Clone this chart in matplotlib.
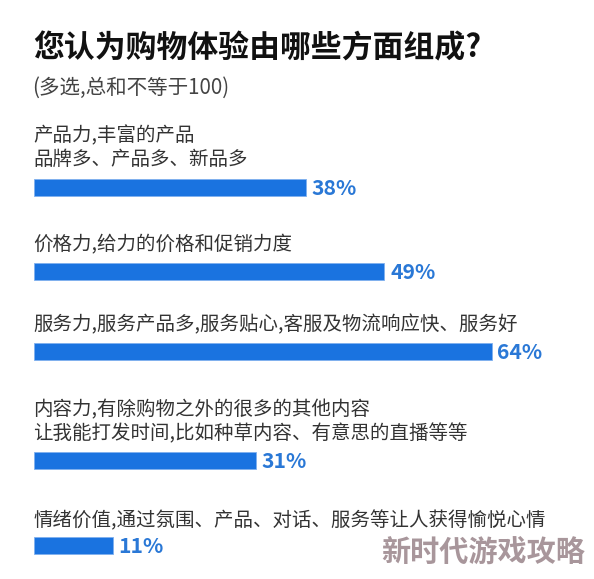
import matplotlib
matplotlib.use("Agg")
import matplotlib.pyplot as plt

plt.rcParams['font.family'] = ['Noto Sans CJK SC', 'DejaVu Sans']

title = "您认为购物体验由哪些方面组成?"
subtitle = "(多选,总和不等于100)"
labels = [
    "产品力,丰富的产品\n品牌多、产品多、新品多",
    "价格力,给力的价格和促销力度",
    "服务力,服务产品多,服务贴心,客服及物流响应快、服务好",
    "内容力,有除购物之外的很多的其他内容\n让我能打发时间,比如种草内容、有意思的直播等等",
    "情绪价值,通过氛围、产品、对话、服务等让人获得愉悦心情",
]
values = [38, 49, 64, 31, 11]
watermark = "新时代游戏攻略"

W, H = 594, 579
fig = plt.figure(figsize=(W / 100, H / 100), dpi=100)
fig.patch.set_facecolor("white")

PX_PER_PCT = 7.15
LEFT_PX = 34
ax = fig.add_axes([0, 0, 1, 1])
ax.set_xlim(-LEFT_PX / PX_PER_PCT, (W - LEFT_PX) / PX_PER_PCT)
ax.set_ylim(H, 0)
ax.axis("off")

bar_centers = [187.5, 271.5, 351.5, 460.5, 545.5]
label_tops = [125, 234, 314, 399, 510]

ax.barh(bar_centers, values, height=17, left=0, color="#1a73e0",
        edgecolor="#7fb0ee", linewidth=0.6)

for yc, v in zip(bar_centers, values):
    ax.text(v + 0.8, yc + 1, f"{v}%", ha="left", va="center",
            fontsize=15.2, color="#2a78d6", fontweight="bold")

for yt, lab in zip(label_tops, labels):
    ax.text(-1 / PX_PER_PCT, yt, lab, ha="left", va="top", fontsize=14.0,
            color="#333333", linespacing=1.21)

ax.text(-1 / PX_PER_PCT, 32, title, ha="left", va="top", fontsize=22.2,
        fontweight="bold", color="#111111")
ax.text(-2 / PX_PER_PCT, 77, subtitle, ha="left", va="top", fontsize=14.8,
        color="#444444")

ax.text((585 - LEFT_PX) / PX_PER_PCT, 567, watermark, ha="right", va="bottom",
        fontsize=21, fontweight="black", color="#a8969b")

fig.savefig("out.png", dpi=100, facecolor="white")
